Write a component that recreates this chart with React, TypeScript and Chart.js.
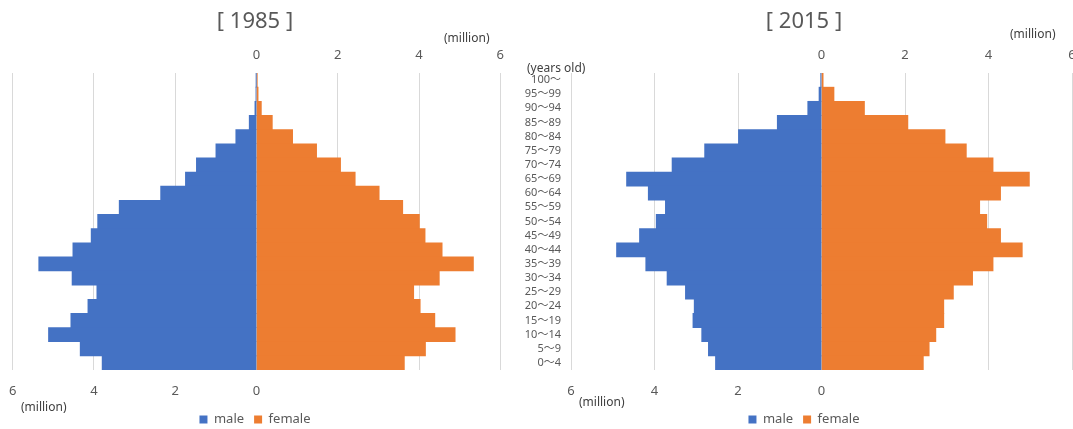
import React, { useEffect, useRef } from 'react';
import { Chart, registerables } from 'chart.js';

Chart.register(...registerables);

// Age groups, listed from the top row to the bottom row
const ageLabels = [
  '100～', '95～99', '90～94', '85～89', '80～84', '75～79', '70～74',
  '65～69', '60～64', '55～59', '50～54', '45～49', '40～44', '35～39',
  '30～34', '25～29', '20～24', '15～19', '10～14', '5～9', '0～4',
];

// population, million (same row order as ageLabels)
const male1985 = [0.005, 0.015, 0.04, 0.18, 0.51, 1.0, 1.48, 1.75, 2.36, 3.38, 3.91, 4.07, 4.52, 5.36, 4.54, 3.93, 4.15, 4.57, 5.12, 4.34, 3.8];
const female1985 = [0.02, 0.04, 0.12, 0.39, 0.89, 1.48, 2.07, 2.43, 3.02, 3.6, 4.01, 4.15, 4.57, 5.34, 4.5, 3.87, 4.03, 4.39, 4.89, 4.16, 3.64];
const male2015 = [0.02, 0.06, 0.33, 1.06, 1.99, 2.8, 3.58, 4.67, 4.15, 3.74, 3.96, 4.36, 4.91, 4.21, 3.7, 3.26, 3.05, 3.08, 2.87, 2.71, 2.54];
const female2015 = [0.04, 0.3, 1.03, 2.07, 2.96, 3.47, 4.11, 4.98, 4.29, 3.79, 3.96, 4.29, 4.81, 4.11, 3.62, 3.16, 2.93, 2.93, 2.74, 2.58, 2.44];

const axisMin = -6;
const axisMax = 6;
const axisStep = 2;

const FONT = '"Noto Sans", "Noto Sans CJK JP", sans-serif';
const BLUE = '#4472C4';
const ORANGE = '#ED7D31';
const TEXT = '#595959';
const DARK = '#404040';
const GRID = '#D9D9D9';

const CANVAS_H = 436;

type PyramidProps = {
  year: string;
  male: number[];
  female: number[];
  left: number;
  width: number;
  padLeft: number;
  padRight: number;
  showAges: boolean;
  yAxisWidth: number;
  rightSpacer: number;
};

function Pyramid(p: PyramidProps) {
  const ref = useRef<HTMLCanvasElement>(null);
  useEffect(() => {
    const scales: any = {
      x: {
        type: 'linear',
        position: 'bottom',
        stacked: true,
        min: axisMin,
        max: axisMax,
        ticks: {
          stepSize: axisStep,
          color: TEXT,
          font: { family: FONT, size: 13 },
          padding: 13,
          callback: (v: any) => (Number(v) <= 0 ? String(Math.abs(Number(v))) : ''),
        },
        grid: { color: GRID, drawTicks: false },
        border: { display: false },
        afterFit: (s: any) => {
          s.height = 33;
        },
      },
      x2: {
        type: 'linear',
        axis: 'x',
        position: 'top',
        min: axisMin,
        max: axisMax,
        ticks: {
          stepSize: axisStep,
          color: TEXT,
          font: { family: FONT, size: 13 },
          padding: 10,
          callback: (v: any) => (Number(v) >= 0 ? String(v) : ''),
        },
        grid: { display: false, drawTicks: false },
        border: { display: false },
        afterFit: (s: any) => {
          s.height = 37.6;
        },
      },
      y: {
        stacked: true,
        display: true,
        grid: { display: false, drawTicks: false },
        border: { display: false },
        ticks: {
          display: p.showAges,
          color: TEXT,
          font: { family: FONT, size: 11 },
          padding: 10,
          autoSkip: false,
        },
        afterFit: (s: any) => {
          s.width = p.yAxisWidth;
        },
      },
      y2: {
        type: 'category',
        axis: 'y',
        position: 'right',
        labels: ageLabels,
        grid: { display: false, drawTicks: false },
        border: { display: false },
        ticks: { display: false },
        afterFit: (s: any) => {
          s.width = p.rightSpacer;
        },
      },
    };
    const chart = new Chart(ref.current as HTMLCanvasElement, {
      type: 'bar',
      data: {
        labels: ageLabels,
        datasets: [
          {
            label: 'male',
            data: p.male.map((v) => -v),
            backgroundColor: BLUE,
            borderWidth: 0,
            barPercentage: 1,
            categoryPercentage: 1,
            xAxisID: 'x',
            yAxisID: 'y',
          },
          {
            label: 'female',
            data: p.female,
            backgroundColor: ORANGE,
            borderWidth: 0,
            barPercentage: 1,
            categoryPercentage: 1,
            xAxisID: 'x',
            yAxisID: 'y',
          },
        ],
      },
      options: {
        indexAxis: 'y',
        responsive: false,
        animation: false,
        layout: { padding: { left: p.padLeft, right: p.padRight, top: 0, bottom: 0 } },
        plugins: {
          title: {
            display: true,
            text: `[ ${p.year} ]`,
            color: TEXT,
            font: { family: FONT, size: 22, weight: 'normal' },
            padding: { top: 9, bottom: 0 },
          },
          legend: {
            position: 'bottom',
            labels: {
              boxWidth: 8,
              boxHeight: 8,
              color: TEXT,
              font: { family: FONT, size: 13 },
              padding: 10,
            },
          },
          tooltip: { enabled: false },
        },
        scales,
      },
    } as any);
    return () => chart.destroy();
  }, []);
  return (
    <canvas
      ref={ref}
      width={p.width}
      height={CANVAS_H}
      style={{ position: 'absolute', left: p.left, top: 0, width: p.width, height: CANVAS_H }}
    />
  );
}

const note = (text: string, left: number, top: number): React.ReactElement => (
  <div
    style={{
      position: 'absolute',
      left,
      top,
      fontFamily: FONT,
      fontSize: 12,
      lineHeight: '16px',
      color: DARK,
      whiteSpace: 'nowrap',
    }}
  >
    {text}
  </div>
);

export default function App() {
  return (
    <div
      style={{
        position: 'absolute',
        left: 0,
        top: 0,
        width: 1073,
        height: 429,
        overflow: 'hidden',
        background: '#ffffff',
      }}
    >
      <Pyramid year="1985" male={male1985} female={female1985} left={-4} width={518} padLeft={0} padRight={0} showAges={false} yAxisWidth={12} rightSpacer={12} />
      <Pyramid year="2015" male={male2015} female={female2015} left={505} width={584} padLeft={14} padRight={0} showAges={true} yAxisWidth={52} rightSpacer={17} />
      {note('(million)', 444, 30)}
      {note('(million)', 21, 399)}
      {note('(million)', 1010, 26)}
      {note('(years old)', 527, 60)}
      {note('(million)', 579, 394)}
    </div>
  );
}
